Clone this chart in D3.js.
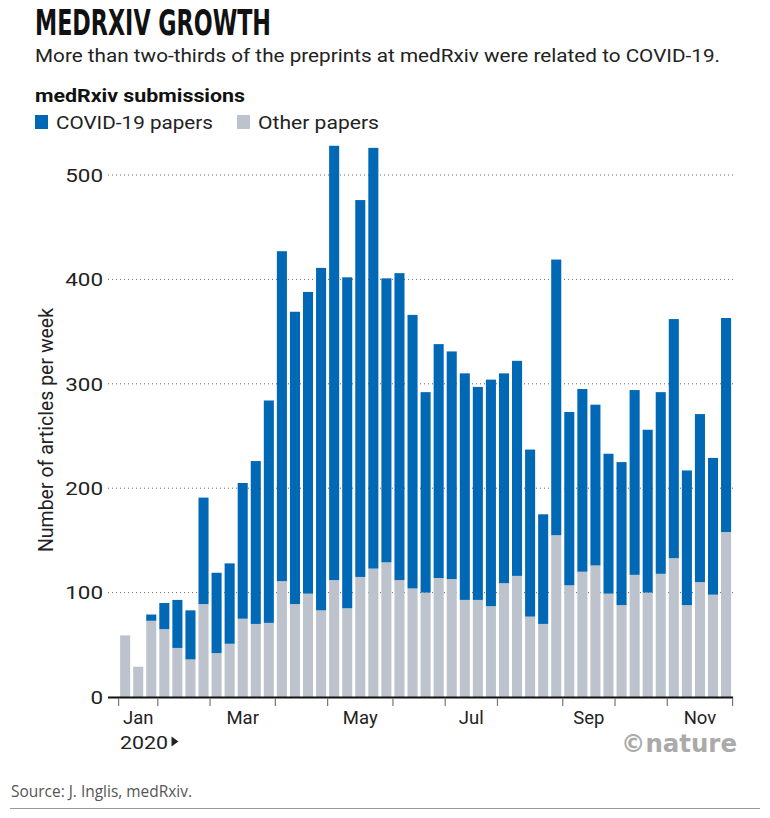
<!DOCTYPE html>
<html>
<head>
<meta charset="utf-8">
<script src="https://cdn.jsdelivr.net/npm/d3@7"></script>
<style>
  html, body { margin: 0; padding: 0; background: #fff; }
  svg { display: block; }
</style>
</head>
<body>
<svg id="chart" width="770" height="818"></svg>
<script>
// ---- DATA ----
const weeks = [
  "2020-01-12","2020-01-19","2020-01-26",
  "2020-02-02","2020-02-09","2020-02-16","2020-02-23",
  "2020-03-01","2020-03-08","2020-03-15","2020-03-22","2020-03-29",
  "2020-04-05","2020-04-12","2020-04-19","2020-04-26",
  "2020-05-03","2020-05-10","2020-05-17","2020-05-24","2020-05-31",
  "2020-06-07","2020-06-14","2020-06-21","2020-06-28",
  "2020-07-05","2020-07-12","2020-07-19","2020-07-26",
  "2020-08-02","2020-08-09","2020-08-16","2020-08-23","2020-08-30",
  "2020-09-06","2020-09-13","2020-09-20","2020-09-27",
  "2020-10-04","2020-10-11","2020-10-18","2020-10-25",
  "2020-11-01","2020-11-08","2020-11-15","2020-11-22","2020-11-29"
];
const otherPapers = [
  59, 29, 73, 65, 47, 36, 89, 42, 51, 75, 70, 71,
  111, 89, 99, 83, 112, 85, 115, 123, 129,
  112, 104, 100, 114, 113, 93, 93, 87, 109,
  116, 77, 70, 155, 107, 120, 126, 99,
  88, 117, 100, 118, 133, 88, 110, 98, 158
];
const totalPapers = [
  59, 29, 79, 90, 93, 83, 191, 119, 128, 205, 226, 284,
  427, 369, 388, 411, 528, 402, 476, 526, 401,
  406, 366, 292, 338, 331, 310, 297, 304, 310,
  322, 237, 175, 419, 273, 295, 280, 233,
  225, 294, 256, 292, 362, 217, 271, 229, 363
];
const covidPapers = totalPapers.map((t, i) => t - otherPapers[i]);
const yTicks = [0, 100, 200, 300, 400, 500];
const monthLabels = ["Jan", "Mar", "May", "Jul", "Sep", "Nov"];

// ---- STYLE ----
const BLUE = "#0068b4";
const GREY = "#bcc3cc";
const FONT = "Roboto, 'Liberation Sans', sans-serif";

const svg = d3.select("#chart");
const parse = d3.utcParse("%Y-%m-%d");
const weekDates = weeks.map(parse);

const x = d3.scaleBand()
  .domain(weeks)
  .range([118.6, 732.6])
  .paddingInner(0.23)
  .paddingOuter(0.115);
const y = d3.scaleLinear().domain([0, 500]).range([697, 175]);

// Title block
svg.append("text")
  .attr("x", 35).attr("y", 35)
  .attr("font-family", "'Liberation Sans Narrow', 'DejaVu Sans Condensed', sans-serif")
  .attr("font-weight", "bold")
  .attr("font-size", 35)
  .attr("textLength", 236).attr("lengthAdjust", "spacingAndGlyphs")
  .attr("fill", "#111")
  .text("MEDRXIV GROWTH");

svg.append("text")
  .attr("x", 35).attr("y", 62)
  .attr("font-family", FONT)
  .attr("font-size", 19)
  .attr("textLength", 685).attr("lengthAdjust", "spacingAndGlyphs")
  .attr("fill", "#222")
  .text("More than two-thirds of the preprints at medRxiv were related to COVID-19.");

svg.append("text")
  .attr("x", 35).attr("y", 102)
  .attr("font-family", FONT)
  .attr("font-weight", "bold")
  .attr("font-size", 18)
  .attr("textLength", 210).attr("lengthAdjust", "spacingAndGlyphs")
  .attr("fill", "#111")
  .text("medRxiv submissions");

// Legend
const legend = [
  {label: "COVID-19 papers", color: BLUE, x: 35, w: 157},
  {label: "Other papers", color: GREY, x: 237, w: 121}
];
legend.forEach(l => {
  svg.append("rect").attr("x", l.x).attr("y", 115).attr("width", 13).attr("height", 14).attr("fill", l.color);
  svg.append("text")
    .attr("x", l.x + 21).attr("y", 129)
    .attr("font-family", FONT).attr("font-size", 19)
    .attr("textLength", l.w).attr("lengthAdjust", "spacingAndGlyphs")
    .attr("fill", "#222")
    .text(l.label);
});

// Gridlines
const grid = svg.append("g");
grid.selectAll("line").data(yTicks.filter(d => d > 0)).join("line")
  .attr("x1", 108).attr("x2", 736)
  .attr("y1", d => y(d)).attr("y2", d => y(d))
  .attr("stroke", "#666").attr("stroke-width", 1)
  .attr("stroke-dasharray", "1,3");

// Y tick labels
svg.append("g").selectAll("text").data(yTicks).join("text")
  .attr("x", 103).attr("y", d => y(d))
  .attr("dy", "0.36em")
  .attr("text-anchor", "end")
  .attr("font-family", FONT).attr("font-size", 19)
  .attr("textLength", d => String(d).length * 12.6)
  .attr("lengthAdjust", "spacingAndGlyphs")
  .attr("fill", "#222")
  .text(d => d);

// Y axis title
svg.append("text")
  .attr("transform", "translate(53,430) rotate(-90)")
  .attr("text-anchor", "middle")
  .attr("font-family", FONT).attr("font-size", 19.5)
  .attr("fill", "#222")
  .text("Number of articles per week");

// Bars
const bars = svg.append("g");
bars.selectAll("rect.other").data(weeks).join("rect")
  .attr("class", "other")
  .attr("x", d => x(d)).attr("width", x.bandwidth())
  .attr("y", (d, i) => y(otherPapers[i]))
  .attr("height", (d, i) => y(0) - y(otherPapers[i]))
  .attr("fill", GREY);
bars.selectAll("rect.covid").data(weeks).join("rect")
  .attr("class", "covid")
  .attr("x", d => x(d)).attr("width", x.bandwidth())
  .attr("y", (d, i) => y(otherPapers[i] + covidPapers[i]))
  .attr("height", (d, i) => y(otherPapers[i]) - y(otherPapers[i] + covidPapers[i]))
  .attr("fill", BLUE);

// X axis: month boundary ticks
const gap = x.step() * x.paddingInner() / 2;
const monthStarts = [];
weekDates.forEach((d, i) => {
  if (i === 0 || d.getUTCMonth() !== weekDates[i - 1].getUTCMonth()) monthStarts.push(i);
});
const tickXs = monthStarts.map(i => x(weeks[i]) - gap);
tickXs.push(x.range()[1]);

svg.append("line")
  .attr("x1", 108).attr("x2", x.range()[1] + 0.5)
  .attr("y1", y(0) + 0.5).attr("y2", y(0) + 0.5)
  .attr("stroke", "#111").attr("stroke-width", 2.2);

svg.append("g").selectAll("line").data(tickXs).join("line")
  .attr("x1", d => d).attr("x2", d => d)
  .attr("y1", y(0) + 1).attr("y2", y(0) + 9)
  .attr("stroke", "#777").attr("stroke-width", 1.2);

// Month labels centred between a month's ticks
const monthFmt = d3.utcFormat("%b");
const labelData = [];
monthStarts.forEach((wi, k) => {
  const name = monthFmt(weekDates[wi]);
  if (monthLabels.includes(name)) {
    labelData.push({name, cx: (tickXs[k] + tickXs[k + 1]) / 2});
  }
});
svg.append("g").selectAll("text").data(labelData).join("text")
  .attr("x", d => d.cx).attr("y", 724)
  .attr("text-anchor", "middle")
  .attr("font-family", FONT).attr("font-size", 18.5)
  .attr("fill", "#222")
  .text(d => d.name);

svg.append("text")
  .attr("x", 120).attr("y", 749)
  .attr("font-family", FONT).attr("font-size", 18.5)
  .attr("textLength", 48).attr("lengthAdjust", "spacingAndGlyphs")
  .attr("fill", "#222")
  .text("2020");
svg.append("path")
  .attr("d", "M171.5,736.5 L178.5,741.5 L171.5,746.5 Z")
  .attr("fill", "#222");

// nature credit
svg.append("text")
  .attr("x", 737).attr("y", 752)
  .attr("text-anchor", "end")
  .attr("font-family", "'Liberation Sans Narrow', 'DejaVu Sans Condensed', sans-serif")
  .attr("font-weight", "bold")
  .attr("font-size", 24)
  .attr("textLength", 116).attr("lengthAdjust", "spacingAndGlyphs")
  .attr("fill", "#aaaaaa")
  .text("\u00A9nature");

// Source
svg.append("text")
  .attr("x", 11).attr("y", 797)
  .attr("font-family", "'Open Sans', sans-serif").attr("font-size", 15.5)
  .attr("textLength", 181).attr("lengthAdjust", "spacingAndGlyphs")
  .attr("fill", "#555")
  .text("Source: J. Inglis, medRxiv.");

svg.append("line")
  .attr("x1", 10).attr("x2", 760)
  .attr("y1", 808.5).attr("y2", 808.5)
  .attr("stroke", "#999").attr("stroke-width", 1);
</script>
</body>
</html>
